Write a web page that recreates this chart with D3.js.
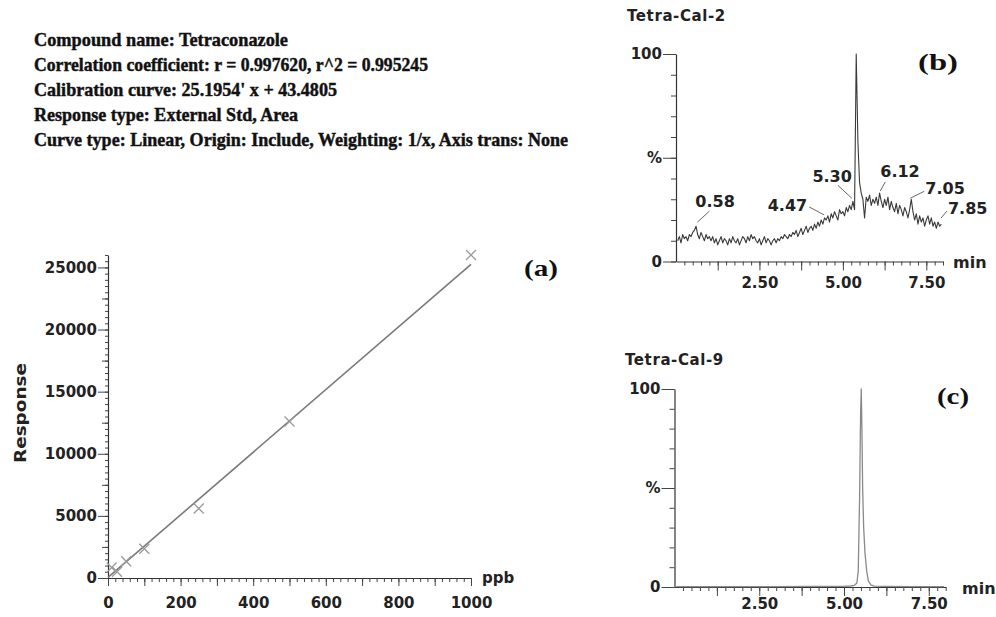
<!DOCTYPE html>
<html><head><meta charset="utf-8">
<script src="https://cdn.jsdelivr.net/npm/d3@7"></script>
<style>body{margin:0;background:#fff}svg{display:block}</style>
</head><body>
<svg id="chart" width="996" height="617"></svg>
<script>
// ---------------- DATA ----------------
const headerLines = [
  "Compound name: Tetraconazole",
  "Correlation coefficient: r = 0.997620, r^2 = 0.995245",
  "Calibration curve: 25.1954' x + 43.4805",
  "Response type: External Std, Area",
  "Curve type: Linear, Origin: Include, Weighting: 1/x, Axis trans: None"
];
// panel (a) calibration
const calLevels    = [10, 25, 50, 100, 250, 500, 1000];
const calResponses = [850, 500, 1350, 2350, 5600, 12600, 26000];
const fitSlope = 25.1954, fitIntercept = 43.4805;
const calXTicks = [0, 200, 400, 600, 800, 1000];
const calYTicks = [0, 5000, 10000, 15000, 20000, 25000];

// panel (b) Tetra-Cal-2 chromatogram (% intensity vs min)
const cal2Times = [
 0.05,0.10,0.15,0.20,0.25,0.30,0.35,0.40,0.45,0.50,
 0.55,0.60,0.65,0.70,0.75,0.80,0.85,0.90,0.95,1.00,
 1.05,1.10,1.15,1.20,1.25,1.30,1.35,1.40,1.45,1.50,
 1.55,1.60,1.65,1.70,1.75,1.80,1.85,1.90,1.95,2.00,
 2.05,2.10,2.15,2.20,2.25,2.30,2.35,2.40,2.45,2.50,
 2.55,2.60,2.65,2.70,2.75,2.80,2.85,2.90,2.95,3.00,
 3.05,3.10,3.15,3.20,3.25,3.30,3.35,3.40,3.45,3.50,
 3.55,3.60,3.65,3.70,3.75,3.80,3.85,3.90,3.95,4.00,
 4.05,4.10,4.15,4.20,4.25,4.30,4.35,4.40,4.45,4.50,
 4.55,4.60,4.65,4.70,4.75,4.80,4.85,4.90,4.95,5.00,
 5.05,5.10,5.15,5.20,5.25,5.30,5.35,5.40,5.45,5.50,
 5.55,5.60,5.65,5.70,5.75,5.80,5.85,5.90,5.95,6.00,
 6.05,6.10,6.15,6.20,6.25,6.30,6.35,6.40,6.45,6.50,
 6.55,6.60,6.65,6.70,6.75,6.80,6.85,6.90,6.95,7.00,
 7.05,7.10,7.15,7.20,7.25,7.30,7.35,7.40,7.45,7.50,
 7.55,7.60,7.65,7.70,7.75,7.80,7.85,7.90,7.95
];
const cal2Intensity = [
 10,12,9,13,11,12,10,13,12,14,
 15,17,13,11,14,12,10,13,11,12,
 10,12,9,11,8,10,12,9,11,10,
 8,11,9,12,10,9,11,8,10,12,
 11,9,12,10,13,11,12,10,9,11,
 8,10,12,9,11,10,8,10,11,9,
 11,10,12,11,13,12,11,13,12,14,
 13,15,12,14,16,13,15,17,14,16,
 17,15,18,16,19,17,20,18,21,20,
 22,19,23,21,24,22,20,25,23,24,
 22,26,24,27,25,29,25,100,58,38,
 33,30,21,31,29,32,27,30,28,31,
 27,33,29,26,30,27,31,25,29,26,
 24,28,23,27,25,22,26,24,21,25,
 30,24,20,23,18,22,19,21,17,20,
 22,18,21,17,19,16,19,17,18
];
const cal2PeakTimes  = [0.58, 4.47, 5.30, 6.12, 7.05, 7.85];
const cal2PeakValues = [17, 21, 29, 33, 30, 19];
const cal2PeakLabels = ["0.58", "4.47", "5.30", "6.12", "7.05", "7.85"];

// panel (c) Tetra-Cal-9 chromatogram
const cal9Times = [0.05,1.0,2.0,3.0,4.0,5.0,5.20,5.30,5.38,5.42,5.46,5.49,5.51,5.53,5.55,5.58,5.62,5.67,5.72,5.80,5.90,6.20,7.0,7.95];
const cal9Intensity = [0.2,0.2,0.2,0.2,0.3,0.3,0.5,0.8,2,8,45,88,100,78,50,30,17,8,3,1,0.4,0.3,0.2,0.2];

const timeLabelTicks = [2.5, 5.0, 7.5];
const timeMajorTicks = [1.25, 2.5, 3.75, 5.0, 6.25, 7.5];
const pctTicks = [0, 50, 100];
const pctTickLabels = ["0", "%", "100"];

// ---------------- LAYOUT ----------------
const SANS = "'DejaVu Sans', sans-serif";
const SERIF = "'Liberation Serif', 'Times New Roman', serif";
const INK = "#222";
const headerLayout = {x: 34, y0: 46, dy: 25, widths: [254, 394, 303, 264, 534]};
// leader / label offsets relative to the labelled peak point (px)
const peakLabelLayout = [
  {l1:[2,-4],  l2:[14,-15], t:[0,-19],   anchor:"start"},
  {l1:[-1,-3], l2:[-16,-11], t:[-18,-7], anchor:"end"},
  {l1:[-1,-3], l2:[-15,-16], t:[-1,-19], anchor:"end"},
  {l1:[0,-2],  l2:[5,-11],  t:[0,-16],   anchor:"start"},
  {l1:[-1,-1], l2:[13,-8],  t:[14,-5],   anchor:"start"},
  {l1:[3,-4],  l2:[9,-11],  t:[10,-8],   anchor:"start"}
];

const svg = d3.select("#chart");

// header
svg.append("g").selectAll("text").data(headerLines).join("text")
  .attr("x", headerLayout.x)
  .attr("y", (d, i) => headerLayout.y0 + i * headerLayout.dy)
  .attr("textLength", (d, i) => headerLayout.widths[i])
  .attr("lengthAdjust", "spacingAndGlyphs")
  .style("font-family", SERIF).style("font-weight", "700").style("font-size", "19px")
  .attr("fill", "#111").attr("stroke", "#111").attr("stroke-width", 0.45)
  .text(d => d);

function styleAxis(g, removeDomain) {
  g.selectAll(".domain").attr("stroke", "#333").attr("stroke-width", 1.2);
  g.selectAll(".tick line").attr("stroke", "#444").attr("stroke-width", 1);
  g.selectAll(".tick text").attr("font-family", SANS).attr("font-weight", "bold")
    .attr("font-size", 15).attr("fill", INK);
  if (removeDomain) g.select(".domain").remove();
}

// ---------------- PANEL (a) ----------------
const xa = d3.scaleLinear().domain([0, 1000]).range([108, 471]);
const ya = d3.scaleLinear().domain([0, 26000]).range([578, 255]);
const gA = svg.append("g");

gA.append("g").attr("transform", `translate(0,${ya(0)})`)
  .call(d3.axisBottom(xa).tickValues(d3.range(0, 1001, 20)).tickSize(4).tickFormat("").tickSizeOuter(0))
  .call(g => styleAxis(g, true));
gA.append("g").attr("transform", `translate(0,${ya(0)})`)
  .call(d3.axisBottom(xa).tickValues(d3.range(0, 1001, 100)).tickSize(8).tickPadding(11)
        .tickFormat(d => calXTicks.includes(d) ? String(d) : "").tickSizeOuter(0))
  .call(g => styleAxis(g, false));

gA.append("g").attr("transform", `translate(${xa(0)},0)`)
  .call(d3.axisLeft(ya).tickValues(d3.range(0, 26001, 500)).tickSize(3).tickFormat("").tickSizeOuter(0))
  .call(g => styleAxis(g, true));
gA.append("g").attr("transform", `translate(${xa(0)},0)`)
  .call(d3.axisLeft(ya).tickValues(d3.range(2500, 26001, 5000)).tickSize(6).tickFormat("").tickSizeOuter(0))
  .call(g => styleAxis(g, true));
gA.append("g").attr("transform", `translate(${xa(0)},0)`)
  .call(d3.axisLeft(ya).tickValues(calYTicks).tickSize(10).tickPadding(1)
        .tickFormat(d3.format("d")).tickSizeOuter(0))
  .call(g => styleAxis(g, false));

// fit line
gA.append("line")
  .attr("x1", xa(0)).attr("y1", ya(fitIntercept))
  .attr("x2", xa(1000)).attr("y2", ya(fitSlope * 1000 + fitIntercept))
  .attr("stroke", "#7a7a7a").attr("stroke-width", 1.6);

// markers
const cal = calLevels.map((x, i) => ({x, y: calResponses[i]}));
gA.append("g").selectAll("path").data(cal).join("path")
  .attr("d", d => {
    const cx = xa(d.x), cy = ya(d.y), s = 5;
    return `M${cx - s},${cy - s}L${cx + s},${cy + s}M${cx - s},${cy + s}L${cx + s},${cy - s}`;
  })
  .attr("stroke", "#9a9a9a").attr("stroke-width", 1.3).attr("fill", "none");

gA.append("text").attr("x", 482).attr("y", 583)
  .attr("font-family", SANS).attr("font-weight", "bold").attr("font-size", 15).attr("fill", INK)
  .text("ppb");
gA.append("text").attr("transform", "translate(20,413) rotate(-90)")
  .attr("text-anchor", "middle").attr("dy", "0.35em")
  .attr("textLength", 100).attr("lengthAdjust", "spacingAndGlyphs")
  .attr("font-family", SANS).attr("font-weight", "bold").attr("font-size", 16).attr("fill", INK)
  .text("Response");
gA.append("text").attr("x", 524).attr("y", 276)
  .attr("textLength", 34).attr("lengthAdjust", "spacingAndGlyphs")
  .attr("font-family", SERIF).attr("font-weight", "bold").attr("font-size", 24).attr("fill", "#111")
  .text("(a)");

// ---------------- CHROMATOGRAM PANELS ----------------
function chromPanel(opt) {
  const g = svg.append("g");
  const x = d3.scaleLinear().domain([0, 8]).range(opt.xr);
  const y = d3.scaleLinear().domain([0, 100]).range(opt.yr);

  g.append("g").attr("transform", `translate(0,${y(0)})`)
    .call(d3.axisBottom(x).tickValues(d3.range(0.25, 8.01, 0.25)).tickSize(4).tickFormat("").tickSizeOuter(0))
    .call(gg => styleAxis(gg, false));
  g.append("g").attr("transform", `translate(0,${y(0)})`)
    .call(d3.axisBottom(x).tickValues(timeMajorTicks).tickSize(9).tickPadding(opt.xPad)
          .tickFormat(d => timeLabelTicks.includes(d) ? d3.format(".2f")(d) : "").tickSizeOuter(0))
    .call(gg => styleAxis(gg, true));

  g.append("g").attr("transform", `translate(${x(0)},0)`)
    .call(d3.axisLeft(y).tickValues(d3.range(0, 101, 10)).tickSize(5).tickFormat("").tickSizeOuter(0))
    .call(gg => styleAxis(gg, false));
  g.append("g").attr("transform", `translate(${x(0)},0)`)
    .call(d3.axisLeft(y).tickValues(pctTicks).tickSize(13).tickPadding(1)
          .tickFormat((d, i) => pctTickLabels[i]).tickSizeOuter(0))
    .call(gg => styleAxis(gg, true));

  const pts = opt.times.map((t, i) => [t, opt.vals[i]]);
  g.append("path").datum(pts)
    .attr("d", d3.line().x(d => x(d[0])).y(d => y(d[1])))
    .attr("fill", "none").attr("stroke", opt.stroke).attr("stroke-width", opt.sw)
    .attr("stroke-linejoin", "round");

  g.append("text").attr("x", opt.minX).attr("y", opt.minY)
    .attr("font-family", SANS).attr("font-weight", "bold").attr("font-size", 16).attr("fill", INK)
    .text("min");
  g.append("text").attr("x", opt.titleX).attr("y", opt.titleY)
    .attr("font-family", SANS).attr("font-weight", "bold").attr("font-size", 15)
    .attr("letter-spacing", 0.6).attr("fill", INK).text(opt.title);
  g.append("text").attr("x", opt.tagX).attr("y", opt.tagY)
    .attr("textLength", opt.tagW).attr("lengthAdjust", "spacingAndGlyphs")
    .attr("font-family", SERIF).attr("font-weight", "bold").attr("font-size", 24).attr("fill", "#111")
    .text(opt.tag);
  return {g, x, y};
}

const pb = chromPanel({
  xr: [676, 943], yr: [261.5, 54], xPad: 7,
  times: cal2Times, vals: cal2Intensity, stroke: "#3a3a3a", sw: 1.1,
  minX: 953, minY: 268, title: "Tetra-Cal-2", titleX: 627, titleY: 21,
  tag: "(b)", tagX: 918, tagY: 70, tagW: 40
});

// peak labels for (b)
cal2PeakTimes.forEach((t, i) => {
  const L = peakLabelLayout[i];
  const px = pb.x(t), py = pb.y(cal2PeakValues[i]);
  pb.g.append("line")
    .attr("x1", px + L.l1[0]).attr("y1", py + L.l1[1])
    .attr("x2", px + L.l2[0]).attr("y2", py + L.l2[1])
    .attr("stroke", "#555").attr("stroke-width", 0.9);
  pb.g.append("text").attr("x", px + L.t[0]).attr("y", py + L.t[1])
    .attr("text-anchor", L.anchor)
    .attr("font-family", SANS).attr("font-weight", "bold").attr("font-size", 16).attr("fill", INK)
    .text(cal2PeakLabels[i]);
});

chromPanel({
  xr: [674.5, 945.7], yr: [587, 389], xPad: 2,
  times: cal9Times, vals: cal9Intensity, stroke: "#8a8a8a", sw: 1.3,
  minX: 962, minY: 594, title: "Tetra-Cal-9", titleX: 625, titleY: 365,
  tag: "(c)", tagX: 937, tagY: 404, tagW: 32
});
</script>
</body></html>
